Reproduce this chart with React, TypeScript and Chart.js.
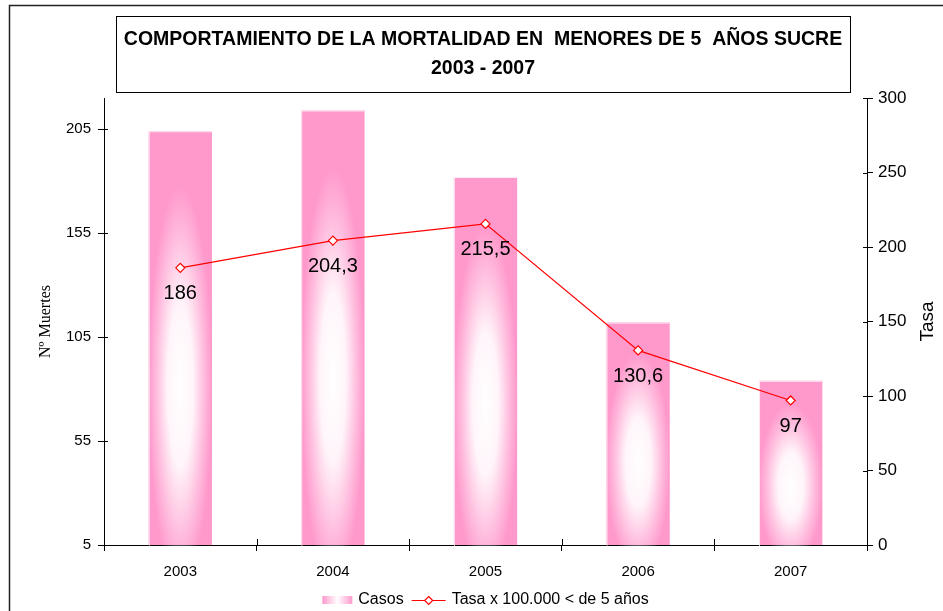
import { useEffect, useRef } from "react";
import { Chart, registerables } from "chart.js";

Chart.register(...registerables);

const categories = ["2003", "2004", "2005", "2006", "2007"];
const casos = [204, 214, 182, 112, 84];
const tasa = [186, 204.3, 215.5, 130.6, 97];
const tasaLabels = ["186", "204,3", "215,5", "130,6", "97"];
const leftTicks = [5, 55, 105, 155, 205];
const rightTicks = [0, 50, 100, 150, 200, 250, 300];
const titleLines = [
  "COMPORTAMIENTO DE LA MORTALIDAD EN  MENORES DE 5  AÑOS SUCRE",
  "2003 - 2007",
];
const leftTitle = "Nº Muertes";
const rightTitle = "Tasa";
const legendCasos = "Casos";
const legendTasa = "Tasa x 100.000 < de 5 años";

const SANS = '"Liberation Sans", Arial, sans-serif';
const SERIF = '"Liberation Serif", "Times New Roman", serif';
const PINK = "#ff99cc";
const RED = "#ff0000";

function drawDiamond(ctx: CanvasRenderingContext2D, x: number, y: number, r: number) {
  ctx.beginPath();
  ctx.moveTo(x, y - r);
  ctx.lineTo(x + r, y);
  ctx.lineTo(x, y + r);
  ctx.lineTo(x - r, y);
  ctx.closePath();
  ctx.fillStyle = "#ffffff";
  ctx.fill();
  ctx.strokeStyle = RED;
  ctx.lineWidth = 1.2;
  ctx.stroke();
}

function condensedText(
  ctx: CanvasRenderingContext2D,
  text: string,
  x: number,
  y: number,
  sx: number
) {
  ctx.save();
  ctx.translate(x, y);
  ctx.scale(sx, 1);
  ctx.fillText(text, 0, 0);
  ctx.restore();
}

const decorPlugin = {
  id: "decor",
  afterDatasetDraw(chart: any, args: any) {
    if (args.meta.type !== "bar") return;
    const ctx: CanvasRenderingContext2D = chart.ctx;
    args.meta.data.forEach((bar: any) => {
      const { x, y, base, width } = bar.getProps(["x", "y", "base", "width"], true);
      const left = x - width / 2;
      const h = base - y;
      ctx.save();
      ctx.beginPath();
      ctx.rect(left, y, width, h);
      ctx.clip();
      ctx.save();
      ctx.translate(x, y + h * 0.6);
      ctx.scale(width / 2, h * 0.47);
      const g = ctx.createRadialGradient(0, 0, 0, 0, 0, 1);
      g.addColorStop(0, "rgba(255,255,255,1)");
      g.addColorStop(0.4, "rgba(255,255,255,0.9)");
      g.addColorStop(0.75, "rgba(255,255,255,0.35)");
      g.addColorStop(1, "rgba(255,255,255,0)");
      ctx.fillStyle = g;
      ctx.fillRect(-1.5, -2, 3, 4);
      ctx.restore();
      ctx.fillStyle = "rgba(255,255,255,0.8)";
      ctx.fillRect(left, y, 1, h);
      ctx.fillRect(left, y, width, 1);
      ctx.restore();
    });
  },
  afterDraw(chart: any) {
    const ctx: CanvasRenderingContext2D = chart.ctx;
    const area = chart.chartArea;
    const xs = chart.scales.x;
    const yl = chart.scales.y;
    const yr = chart.scales.y1;
    ctx.save();

    // outer frame (top and left edges)
    ctx.strokeStyle = "#222";
    ctx.lineWidth = 1.5;
    ctx.beginPath();
    ctx.moveTo(chart.width, 5.5);
    ctx.lineTo(9.5, 5.5);
    ctx.lineTo(9.5, chart.height);
    ctx.stroke();

    // title box
    ctx.lineWidth = 1;
    ctx.strokeStyle = "#000";
    ctx.strokeRect(116.5, 16.5, 734, 76);
    ctx.fillStyle = "#000";
    ctx.font = `bold 20px ${SANS}`;
    ctx.textAlign = "center";
    ctx.textBaseline = "middle";
    condensedText(ctx, titleLines[0], 483, 39, 0.975);
    condensedText(ctx, titleLines[1], 483, 68, 0.975);

    // inner tick segments (ticks cross the axes)
    ctx.strokeStyle = "#000";
    ctx.lineWidth = 1;
    ctx.beginPath();
    yl.ticks.forEach((t: any) => {
      const p = Math.round(yl.getPixelForValue(t.value)) + 0.5;
      ctx.moveTo(area.left, p);
      ctx.lineTo(area.left + 4, p);
    });
    yr.ticks.forEach((t: any) => {
      const p = Math.round(yr.getPixelForValue(t.value)) + 0.5;
      ctx.moveTo(area.right - 4, p);
      ctx.lineTo(area.right, p);
    });
    const n = categories.length;
    for (let i = 1; i < n; i++) {
      const p = Math.round(xs.left + (i * xs.width) / n) + 0.5;
      ctx.moveTo(p, area.bottom - 6);
      ctx.lineTo(p, area.bottom);
    }
    ctx.stroke();

    // data labels for Tasa
    const lineMeta = chart.getDatasetMeta(0);
    ctx.font = `20px ${SANS}`;
    ctx.fillStyle = "#000";
    ctx.textAlign = "center";
    ctx.textBaseline = "middle";
    lineMeta.data.forEach((pt: any, i: number) => {
      ctx.fillText(tasaLabels[i], pt.x, pt.y + 26);
    });

    // axis titles
    ctx.save();
    ctx.translate(46, (area.top + area.bottom) / 2);
    ctx.rotate(-Math.PI / 2);
    ctx.font = `16px ${SERIF}`;
    ctx.fillText(leftTitle, 0, 0);
    ctx.restore();
    ctx.save();
    ctx.translate(928, (area.top + area.bottom) / 2);
    ctx.rotate(-Math.PI / 2);
    ctx.font = `19px ${SANS}`;
    ctx.fillText(rightTitle, 0, 0);
    ctx.restore();

    // legend
    ctx.font = `16px ${SANS}`;
    const wC = ctx.measureText(legendCasos).width;
    const wT = ctx.measureText(legendTasa).width;
    const sw = 30, gap = 6, lineSw = 34, between = 8;
    const total = sw + gap + wC + between + lineSw + gap + wT;
    let lx = (area.left + area.right) / 2 - total / 2;
    const ly = 600;
    const lg = ctx.createLinearGradient(lx, 0, lx + sw, 0);
    lg.addColorStop(0, PINK);
    lg.addColorStop(0.5, "#ffffff");
    lg.addColorStop(1, PINK);
    ctx.fillStyle = lg;
    ctx.fillRect(lx, ly - 4, sw, 8);
    lx += sw + gap;
    ctx.fillStyle = "#000";
    ctx.textAlign = "left";
    ctx.fillText(legendCasos, lx, ly);
    lx += wC + between;
    ctx.strokeStyle = RED;
    ctx.lineWidth = 1.2;
    ctx.beginPath();
    ctx.moveTo(lx, ly + 0.5);
    ctx.lineTo(lx + lineSw, ly + 0.5);
    ctx.stroke();
    drawDiamond(ctx, lx + lineSw / 2, ly + 0.5, 4);
    lx += lineSw + gap;
    ctx.fillStyle = "#000";
    ctx.fillText(legendTasa, lx, ly);

    ctx.restore();
  },
};

export default function App() {
  const ref = useRef<HTMLCanvasElement | null>(null);

  useEffect(() => {
    if (!ref.current) return;
    const chart = new Chart(ref.current, {
      type: "bar",
      data: {
        labels: categories,
        datasets: [
          {
            type: "line",
            label: legendTasa,
            data: tasa,
            yAxisID: "y1",
            borderColor: RED,
            borderWidth: 1.2,
            pointStyle: "rectRot",
            pointRadius: 4.5,
            pointBackgroundColor: "#ffffff",
            pointBorderColor: RED,
            pointBorderWidth: 1.2,
            order: 1,
          } as any,
          {
            type: "bar",
            label: legendCasos,
            data: casos,
            yAxisID: "y",
            backgroundColor: PINK,
            borderWidth: 0,
            categoryPercentage: 1,
            barPercentage: 0.415,
            order: 2,
          } as any,
        ],
      },
      options: {
        responsive: false,
        animation: false,
        layout: { padding: { top: 98, left: 0, right: 0, bottom: 0 } },
        plugins: {
          legend: { display: false },
          title: { display: false },
          tooltip: { enabled: false },
        },
        scales: {
          x: {
            grid: {
              offset: true,
              drawOnChartArea: false,
              tickLength: 6,
              color: "#000",
            },
            border: { color: "#000", width: 1 },
            ticks: {
              color: "#000",
              font: { family: SANS, size: 15 },
              padding: 12,
            },
            afterFit(scale: any) {
              scale.height = 66;
            },
          },
          y: {
            position: "left",
            min: 5,
            max: 220,
            grid: { drawOnChartArea: false, tickLength: 6, color: "#000" },
            border: { color: "#000", width: 1 },
            ticks: {
              color: "#000",
              font: { family: SANS, size: 15 },
              padding: 7,
            },
            afterBuildTicks(scale: any) {
              scale.ticks = leftTicks.map((v) => ({ value: v }));
            },
            afterFit(scale: any) {
              scale.width = 104;
            },
          },
          y1: {
            position: "right",
            min: 0,
            max: 300,
            grid: { drawOnChartArea: false, tickLength: 6, color: "#000" },
            border: { color: "#000", width: 1 },
            ticks: {
              color: "#000",
              font: { family: SANS, size: 17 },
              padding: 5,
            },
            afterBuildTicks(scale: any) {
              scale.ticks = rightTicks.map((v) => ({ value: v }));
            },
            afterFit(scale: any) {
              scale.width = 76;
            },
          },
        },
      },
      plugins: [decorPlugin],
    });
    return () => chart.destroy();
  }, []);

  return (
    <div style={{ position: "absolute", left: 0, top: 0, width: 943, height: 611, background: "#fff" }}>
      <canvas ref={ref} width={943} height={611} style={{ display: "block" }} />
    </div>
  );
}
